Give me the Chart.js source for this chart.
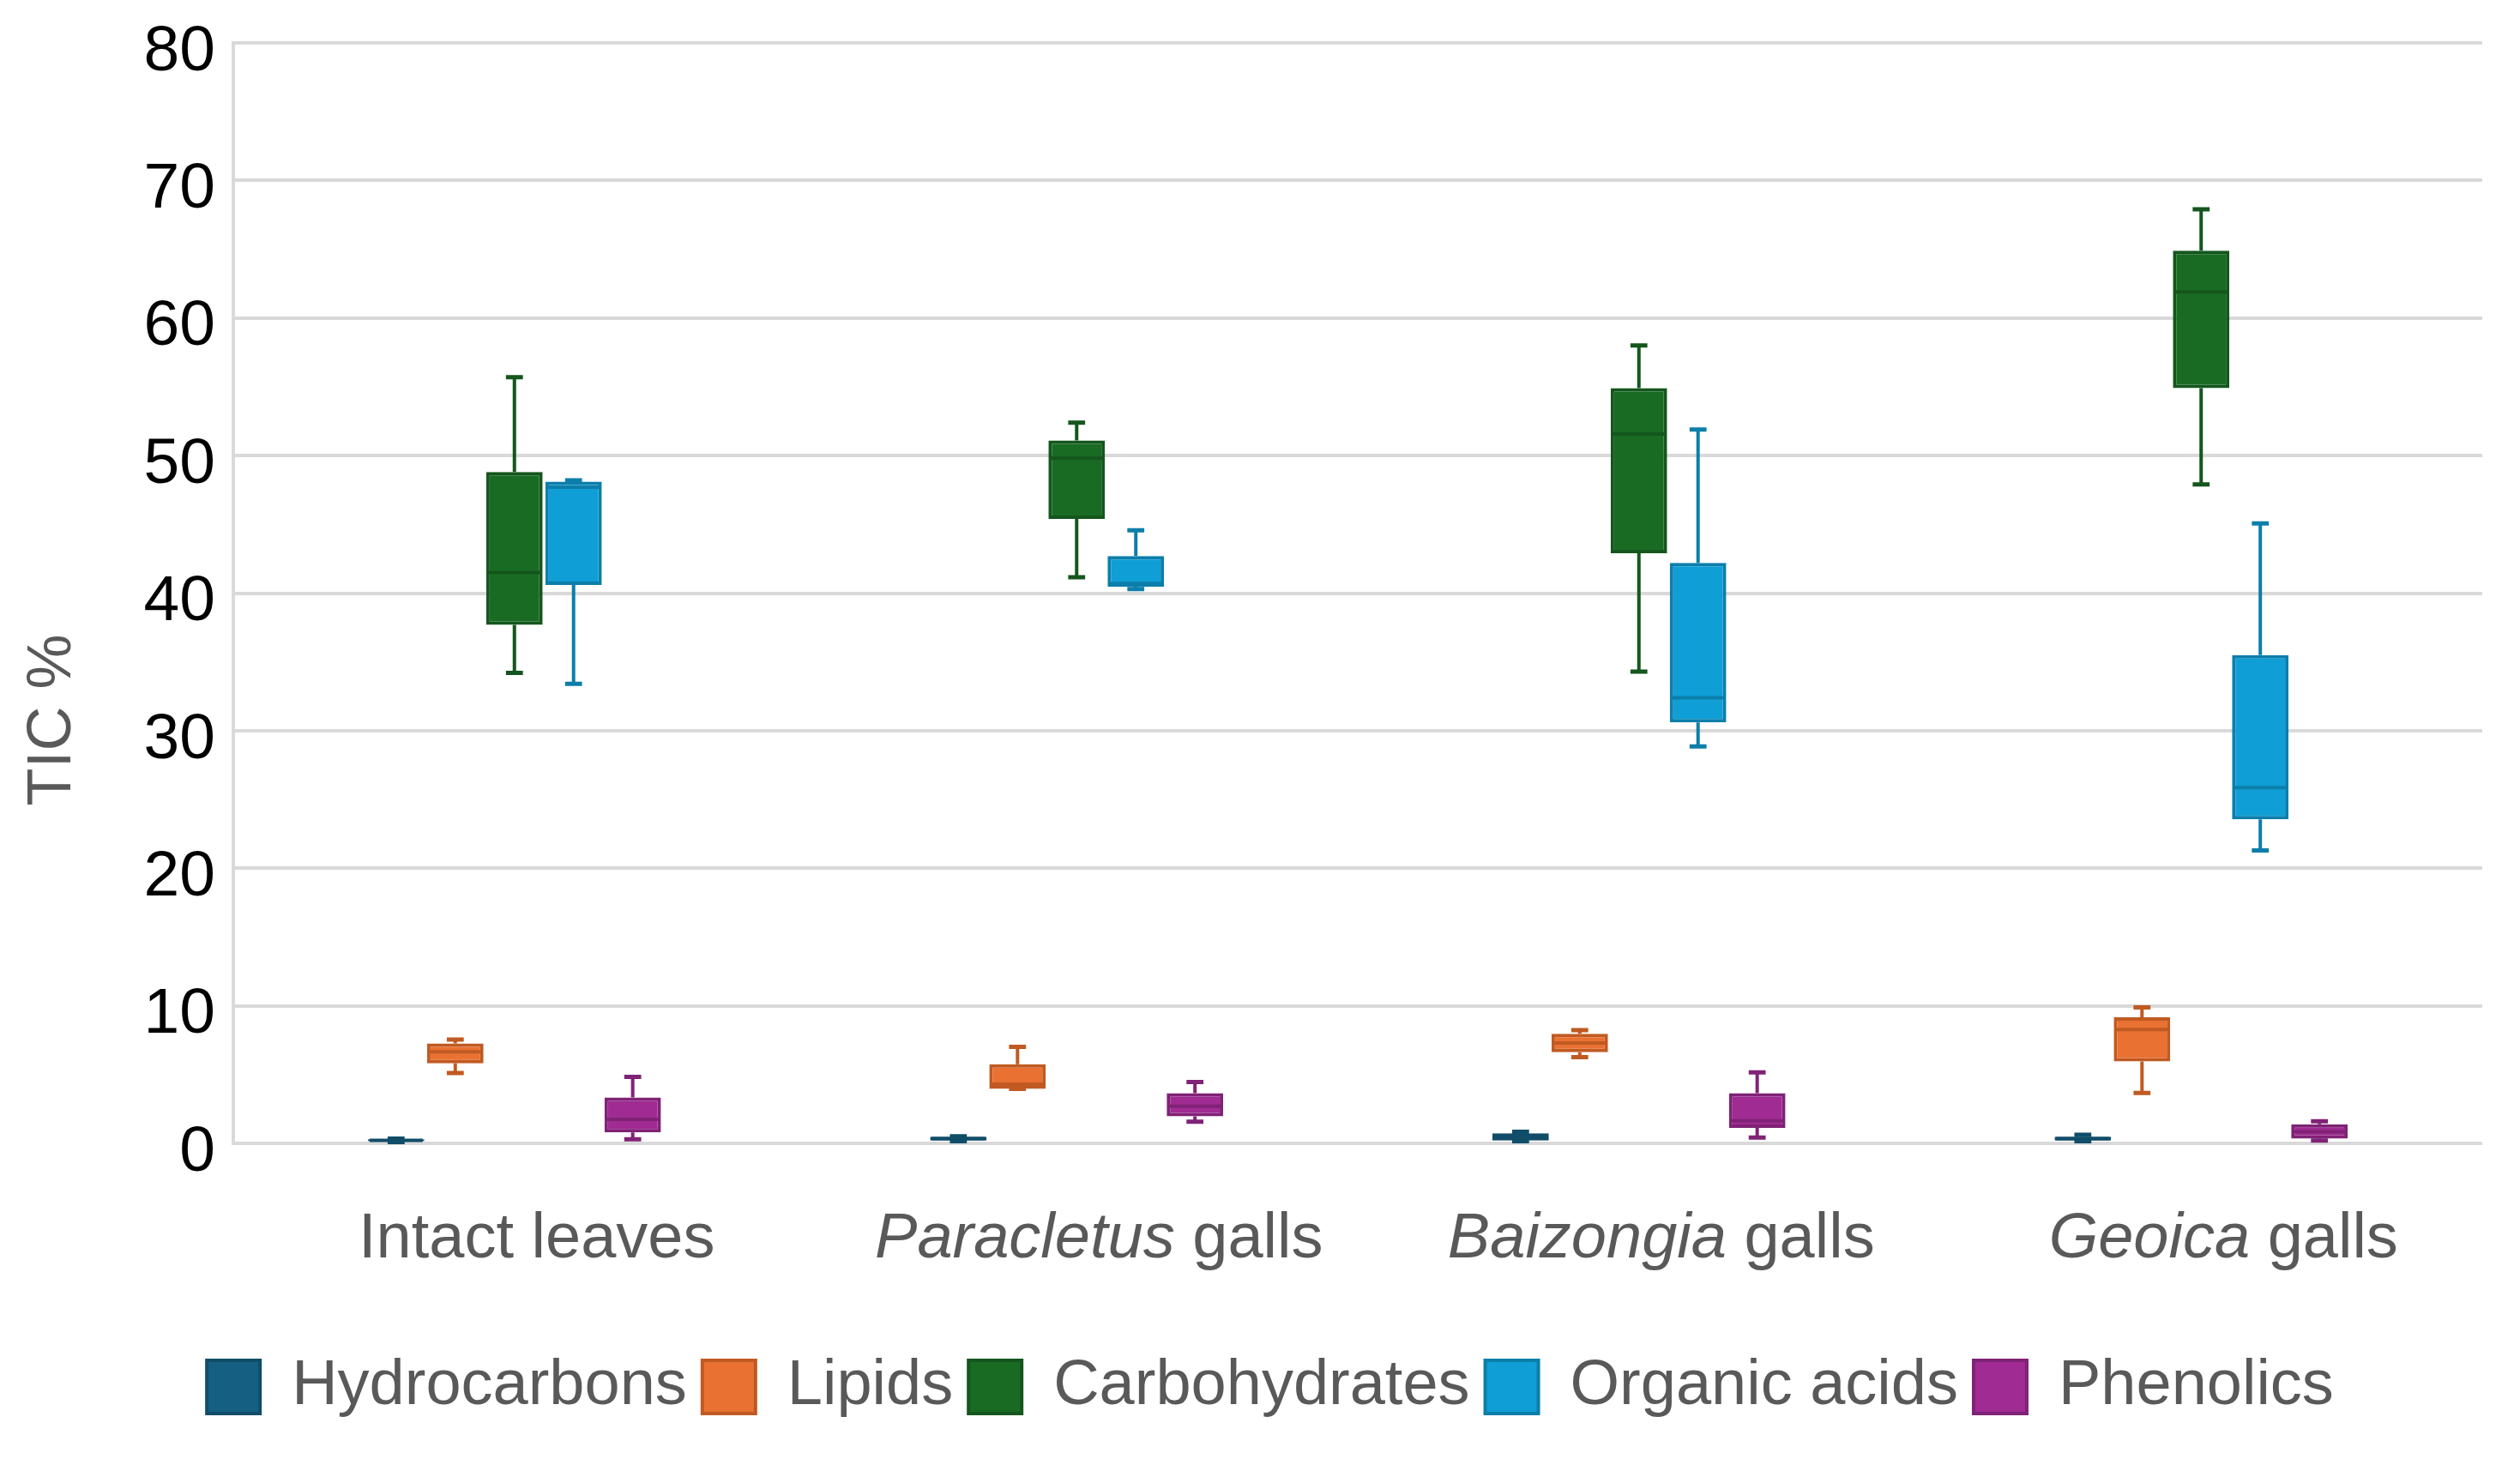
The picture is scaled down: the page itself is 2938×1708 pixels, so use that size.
<!DOCTYPE html>
<html lang="en">
<head>
<meta charset="UTF-8">
<title>TIC % by compound class</title>
<script src="https://cdn.jsdelivr.net/npm/chart.js"></script>
<style>
  html, body { margin: 0; padding: 0; background: #fff; }
  #box-chart { display: block; }
</style>
</head>
<body>

<canvas id="box-chart" width="2938" height="1708"></canvas>

<script>
// categories (x axis); genus names are drawn in italics
var categories = ['Intact leaves', 'Paracletus galls', 'Baizongia galls', 'Geoica galls'];
var italicParts = ['', 'Paracletus', 'Baizongia', 'Geoica'];

// each entry: [min, q1, median, q3, max] per category
var hydrocarbons = [[0.10, 0.15, 0.22, 0.30, 0.35], [0.15, 0.20, 0.35, 0.48, 0.52], [0.15, 0.21, 0.50, 0.74, 0.84], [0.15, 0.21, 0.35, 0.48, 0.63]];
var lipids = [[5.12, 5.81, 6.65, 7.26, 7.54], [3.96, 3.96, 4.30, 5.75, 7.01], [6.27, 6.63, 7.30, 7.96, 8.23], [3.66, 5.96, 8.27, 9.16, 9.89]];
var carbohydrates = [[34.2, 37.7, 41.5, 48.8, 55.7], [41.15, 45.4, 49.8, 51.1, 52.4], [34.3, 42.9, 51.56, 54.9, 58.0], [47.9, 54.9, 61.9, 64.9, 67.9]];
var organicAcids = [[33.4, 40.6, 47.7, 48.1, 48.2], [40.3, 40.46, 40.7, 42.7, 44.56], [28.85, 30.6, 32.4, 42.2, 51.9], [21.3, 23.55, 25.86, 35.5, 45.07]];
var phenolics = [[0.29, 0.80, 1.75, 3.33, 4.84], [1.58, 1.96, 2.69, 3.64, 4.46], [0.42, 1.12, 1.64, 3.64, 5.16], [0.20, 0.34, 0.84, 1.39, 1.60]];

var seriesNames = ['Hydrocarbons', 'Lipids', 'Carbohydrates', 'Organic acids', 'Phenolics'];
var seriesData = [hydrocarbons, lipids, carbohydrates, organicAcids, phenolics];
var fillColors = ['#156082', '#E97132', '#196B24', '#0F9ED5', '#A02B93'];
var lineColors = ['#104D68', '#C05A22', '#14561D', '#0C7EAA', '#802276'];

var yTicks = { min: 0, max: 80, step: 10 };
var yTitle = 'TIC %';

var fontFamily = '"Liberation Sans", Arial, sans-serif';
var greyText = '#595959';

// boxes are floating bars from q1 to q3
var datasets = seriesNames.map(function(name, i) {
    return {
        label: name,
        data: seriesData[i].map(function(s) { return [s[1], s[3]]; }),
        stats: seriesData[i],
        backgroundColor: fillColors[i],
        borderColor: lineColors[i],
        borderWidth: 4,
        borderSkipped: false,
        categoryPercentage: 0.526,
        barPercentage: 0.955
    };
});

// whiskers, caps and median lines, placed with the chart's own scales
var whiskerPlugin = {
    id: 'whiskers',
    afterDatasetsDraw: function(chart) {
        var ctx = chart.ctx;
        var y = chart.scales.y;
        chart.data.datasets.forEach(function(ds, di) {
            var meta = chart.getDatasetMeta(di);
            meta.data.forEach(function(bar, i) {
                var s = ds.stats[i];
                var cx = bar.x;
                var half = bar.width / 2;
                var cap = bar.width * 0.15;
                var yMin = y.getPixelForValue(s[0]);
                var yQ1 = y.getPixelForValue(s[1]);
                var yMed = y.getPixelForValue(s[2]);
                var yQ3 = y.getPixelForValue(s[3]);
                var yMax = y.getPixelForValue(s[4]);
                ctx.save();
                ctx.strokeStyle = ds.borderColor;
                ctx.lineWidth = 4;
                ctx.beginPath();
                ctx.moveTo(cx, yQ3); ctx.lineTo(cx, yMax);
                ctx.moveTo(cx, yQ1); ctx.lineTo(cx, yMin);
                ctx.stroke();
                ctx.lineWidth = 5;
                ctx.beginPath();
                ctx.moveTo(cx - cap, yMax); ctx.lineTo(cx + cap, yMax);
                ctx.moveTo(cx - cap, yMin); ctx.lineTo(cx + cap, yMin);
                ctx.stroke();
                ctx.lineWidth = 4;
                ctx.beginPath();
                ctx.moveTo(cx - half + 2, yMed); ctx.lineTo(cx + half - 2, yMed);
                ctx.stroke();
                ctx.restore();
            });
        });
    }
};

// category labels with italic genus names, and the rotated y title
var labelPlugin = {
    id: 'labels',
    afterDraw: function(chart) {
        var ctx = chart.ctx;
        var x = chart.scales.x;
        var area = chart.chartArea;
        ctx.save();
        ctx.fillStyle = greyText;
        ctx.textBaseline = 'alphabetic';
        ctx.textAlign = 'left';
        categories.forEach(function(label, i) {
            var it = italicParts[i];
            var rest = label.substring(it.length);
            ctx.font = 'italic 74px ' + fontFamily;
            var w1 = it ? ctx.measureText(it).width : 0;
            ctx.font = '74px ' + fontFamily;
            var w2 = ctx.measureText(rest).width;
            var left = x.getPixelForValue(i) + 26 - (w1 + w2) / 2;
            var base = area.bottom + 133;
            if (it) {
                ctx.font = 'italic 74px ' + fontFamily;
                ctx.fillText(it, left, base);
            }
            ctx.font = '74px ' + fontFamily;
            ctx.fillText(rest, left + w1, base);
        });
        ctx.translate(82, (area.top + area.bottom) / 2 + 148);
        ctx.rotate(-Math.PI / 2);
        ctx.textAlign = 'center';
        ctx.font = '72px ' + fontFamily;
        ctx.fillText(yTitle, 0, 0);
        ctx.restore();
    }
};

var ctx = document.getElementById('box-chart').getContext('2d');
var chart = new Chart(ctx, {
    type: 'bar',
    data: {
        labels: categories,
        datasets: datasets
    },
    options: {
        responsive: false,
        devicePixelRatio: 1,
        animation: false,
        layout: {
            padding: { top: 50, right: 44, bottom: 44, left: 68 }
        },
        plugins: {
            tooltip: { enabled: false },
            legend: {
                position: 'bottom',
                labels: {
                    boxWidth: 62,
                    boxHeight: 62,
                    padding: 18,
                    color: greyText,
                    font: { family: fontFamily, size: 74 }
                }
            }
        },
        scales: {
            x: {
                grid: { display: false },
                border: { display: false },
                ticks: { display: false },
                afterFit: function(scale) { scale.height = 229; }
            },
            y: {
                min: yTicks.min,
                max: yTicks.max,
                ticks: {
                    stepSize: yTicks.step,
                    color: '#000',
                    padding: 21,
                    labelOffset: 11,
                    font: { family: fontFamily, size: 75 }
                },
                grid: { color: '#d9d9d9', lineWidth: 4, drawTicks: false },
                border: { display: true, color: '#d9d9d9', width: 4 },
                afterFit: function(scale) {
                    scale.width = 204;
                    scale.paddingTop = 0;
                    scale.paddingBottom = 0;
                }
            }
        }
    },
    plugins: [whiskerPlugin, labelPlugin]
});
</script>

</body>
</html>
